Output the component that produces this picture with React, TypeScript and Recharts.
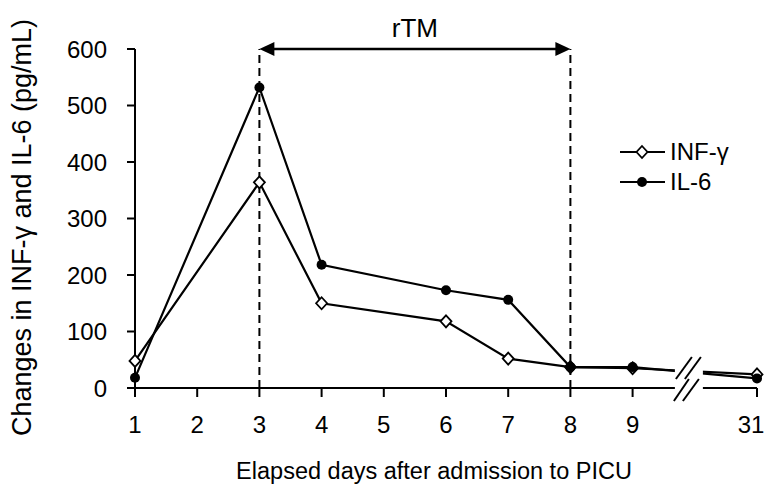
import React from "react";
import {
  Label,
  Legend,
  Line,
  LineChart,
  ReferenceArea,
  ReferenceLine,
  XAxis,
  YAxis,
} from "recharts";

const days = [1, 3, 4, 6, 7, 8, 9, 31];
const infGamma = [48, 364, 150, 118, 52, 37, 35, 24];
const il6 = [18, 532, 218, 173, 156, 37, 37, 17];
const xTicks = [1, 2, 3, 4, 5, 6, 7, 8, 9, 31];
const yTicks = [0, 100, 200, 300, 400, 500, 600];
const rtmStart = 3;
const rtmEnd = 8;

const W = 766;
const H = 488;
const FONT = "'Liberation Sans', Arial, Helvetica, sans-serif";

// days past 9 sit one slot beyond the axis break
const slot = (d: number) => (d <= 9 ? d : 11);

const data = days.map((d, i) => ({ pos: slot(d), inf: infGamma[i], il6: il6[i] }));

const tickLabel = (v: number) => String(xTicks.find((t) => slot(t) === v) ?? v);

const Diamond = (props: any) => {
  const { cx, cy } = props;
  if (cx == null || cy == null) return <g />;
  return (
    <polygon
      points={`${cx},${cy - 6} ${cx + 5.5},${cy} ${cx},${cy + 6} ${cx - 5.5},${cy}`}
      fill="#fff"
      stroke="#000"
      strokeWidth={1.8}
    />
  );
};

const Dot = (props: any) => {
  const { cx, cy } = props;
  if (cx == null || cy == null) return <g />;
  return <circle cx={cx} cy={cy} r={5} fill="#000" />;
};

const XTick = (props: any) => {
  const { x, y, payload } = props;
  const text = tickLabel(payload.value);
  // keep the last label inside the picture
  const tx = Math.min(x, W - text.length * 7 - 1);
  return (
    <text x={tx} y={y} dy="0.71em" textAnchor="middle" fontSize={24} fontFamily={FONT} fill="#000">
      {text}
    </text>
  );
};

const DoubleArrow = (props: any) => {
  const { x1, x2, y1 } = props;
  const l = Math.min(x1, x2);
  const r = Math.max(x1, x2);
  return (
    <g>
      <line x1={l + 10} x2={r - 10} y1={y1} y2={y1} stroke="#000" strokeWidth={2.5} />
      <polygon points={`${l},${y1} ${l + 15},${y1 - 7} ${l + 15},${y1 + 7}`} fill="#000" />
      <polygon points={`${r},${y1} ${r - 15},${y1 - 7} ${r - 15},${y1 + 7}`} fill="#000" />
    </g>
  );
};

const BreakMark = (props: any) => {
  const { x, y, width, height } = props;
  const base = y + height;
  const up = base - 20;
  const s = { stroke: "#000", strokeWidth: 2 };
  return (
    <g>
      <rect x={x} y={base - 32} width={width} height={35} fill="#fff" />
      <line x1={x + 1} y1={up + 11} x2={x + 17} y2={up - 11} {...s} />
      <line x1={x + 10} y1={up + 11} x2={x + 26} y2={up - 11} {...s} />
      <line x1={x - 1} y1={base + 13} x2={x + 14} y2={base - 9} {...s} />
      <line x1={x + 8} y1={base + 13} x2={x + 24} y2={base - 9} {...s} />
    </g>
  );
};

const legendItems = [
  { name: "INF-γ", Marker: Diamond },
  { name: "IL-6", Marker: Dot },
];

const LegendBox = () => (
  <div style={{ fontFamily: FONT, fontSize: 24, color: "#000" }}>
    {legendItems.map(({ name, Marker }) => (
      <div key={name} style={{ display: "flex", alignItems: "center", height: 30 }}>
        <svg width={50} height={20}>
          <line x1={0} x2={45} y1={10} y2={10} stroke="#000" strokeWidth={2} />
          <Marker cx={22} cy={10} />
        </svg>
        <span>{name}</span>
      </div>
    ))}
  </div>
);

const YTitle = (props: any) => {
  const vb = props.viewBox || { x: 0, y: 0, height: 0 };
  const cx = vb.x + 31;
  const cy = vb.y + vb.height / 2 + 9;
  return (
    <text
      x={cx}
      y={cy}
      transform={`rotate(-90 ${cx} ${cy})`}
      textAnchor="middle"
      fontSize={27}
      fontFamily={FONT}
      fill="#000"
    >
      Changes in INF-γ and IL-6 (pg/mL)
    </text>
  );
};

export default function App() {
  const axisStyle = { stroke: "#000", strokeWidth: 2 };
  const tickStyle = { fill: "#000", fontSize: 24, fontFamily: FONT };
  return (
    <div style={{ position: "absolute", left: 0, top: 0, background: "#fff" }}>
      <LineChart
        width={W}
        height={H}
        data={data}
        margin={{ top: 49, right: 9, left: 0, bottom: 40 }}
      >
        <XAxis
          dataKey="pos"
          type="number"
          domain={[1, 11]}
          ticks={xTicks.map(slot)}
          tick={XTick}
          tickSize={9}
          tickMargin={19}
          axisLine={axisStyle}
          tickLine={axisStyle}
          height={60}
          interval={0}
        >
          <Label
            value="Elapsed days after admission to PICU"
            position="bottom"
            offset={14}
            dx={-12}
            fontSize={23.5}
            fontFamily={FONT}
            fill="#000"
          />
        </XAxis>
        <YAxis
          domain={[0, 600]}
          ticks={yTicks}
          tickSize={8}
          tickMargin={20}
          axisLine={axisStyle}
          tickLine={axisStyle}
          tick={tickStyle}
          width={135}
          interval={0}
        >
          <Label content={YTitle} />
        </YAxis>
        <ReferenceLine x={rtmStart} stroke="#000" strokeWidth={2} strokeDasharray="8 5" />
        <ReferenceLine x={rtmEnd} stroke="#000" strokeWidth={2} strokeDasharray="8 5" />
        <ReferenceLine
          segment={[
            { x: rtmStart, y: 600 },
            { x: rtmEnd, y: 600 },
          ]}
          shape={DoubleArrow}
          ifOverflow="visible"
        >
          <Label
            value="rTM"
            position="top"
            offset={12}
            fontSize={26}
            fontFamily={FONT}
            fill="#000"
          />
        </ReferenceLine>
        <Line
          dataKey="inf"
          name="INF-γ"
          stroke="#000"
          strokeWidth={2.2}
          dot={Diamond}
          activeDot={false}
          isAnimationActive={false}
        />
        <Line
          dataKey="il6"
          name="IL-6"
          stroke="#000"
          strokeWidth={2.2}
          dot={Dot}
          activeDot={false}
          isAnimationActive={false}
        />
        <ReferenceArea
          x1={9.68}
          x2={10.13}
          y1={0}
          y2={60}
          ifOverflow="visible"
          shape={BreakMark}
          {...({ zIndex: 2500 } as any)}
        />
        <Legend
          layout="vertical"
          align="center"
          verticalAlign="middle"
          content={LegendBox}
          wrapperStyle={{ left: 620, top: 137, width: 146, height: 60 }}
        />
      </LineChart>
    </div>
  );
}
